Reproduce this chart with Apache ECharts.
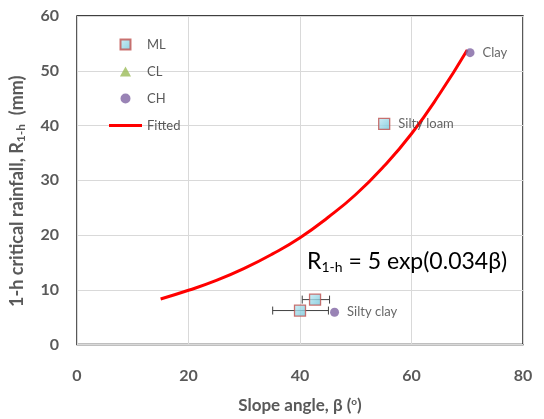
<!DOCTYPE html>
<html>
<head>
<meta charset="utf-8">
<script src="https://cdn.jsdelivr.net/npm/echarts@6/dist/echarts.min.js"></script>
<style>
  html, body { margin: 0; padding: 0; background: #fff; }
  #main { width: 544px; height: 419px; }
</style>
</head>
<body>
<div id="main"></div>
<script>
// data
var mlPoints = [[55.1, 40.3], [42.7, 8.2], [40.0, 6.2]];
var mlLabels = ['Silty loam', '', ''];
var mlErrLow = [null, 40.4, 35.1];
var mlErrHigh = [null, 45.3, 45.1];
var clPoints = [];
var chPoints = [[70.5, 53.3], [46.2, 5.9]];
var chLabels = ['Clay', 'Silty clay'];
var fitBeta = [15, 20, 25, 30, 35, 40, 45, 50, 55, 60, 65, 70];
var fitR = [8.3, 9.9, 11.7, 13.9, 16.5, 19.5, 23.2, 27.4, 32.5, 38.5, 45.7, 53.8];

var grey = '#595959';
var font = 'Lato, "Open Sans", sans-serif';

var errData = [];
mlPoints.forEach(function (p, i) {
    if (mlErrLow[i] != null) errData.push([p[0], p[1], mlErrLow[i], mlErrHigh[i]]);
});
var fitData = fitBeta.map(function (b, i) { return [b, fitR[i]]; });

var myChart = echarts.init(document.getElementById('main'));
var option = {
    animation: false,
    backgroundColor: '#fff',
    textStyle: { fontFamily: font },
    grid: {
        left: 76, right: 21, top: 16, bottom: 69,
        show: true, borderColor: '#000', borderWidth: 1.3
    },
    legend: {
        orient: 'vertical',
        left: 104, top: 33,
        itemWidth: 33, itemHeight: 10,
        itemGap: 14,
        symbolKeepAspect: true,
        textStyle: { color: grey, fontSize: 13, fontFamily: font },
        data: [
            { name: 'ML', icon: 'path://M0,0L10,0L10,10L0,10Z' },
            { name: 'CL', icon: 'path://M5,0L10,9L0,9Z' },
            { name: 'CH', icon: 'path://M5,0A5,5,0,1,1,4.99,0Z' },
            { name: 'Fitted', icon: 'path://M0,0L33,0L33,3L0,3Z' }
        ]
    },
    xAxis: {
        type: 'value', min: 0, max: 80, interval: 20,
        name: '{t|Slope angle, β (}{s|o}{t|)}',
        nameLocation: 'middle', nameGap: 52, nameMoveOverlap: false,
        nameTextStyle: {
            rich: {
                t: { fontSize: 17, fontWeight: 'bold', color: grey, fontFamily: font },
                s: { fontSize: 10, fontWeight: 'bold', color: grey, fontFamily: font, verticalAlign: 'top', padding: [0, 0, 8, 0] }
            }
        },
        axisLine: { show: false },
        axisTick: { show: false },
        axisLabel: { color: grey, fontSize: 16, fontWeight: 'bold', margin: 23 },
        splitLine: { lineStyle: { color: '#d9d9d9', width: 1 } }
    },
    yAxis: {
        type: 'value', min: 0, max: 60, interval: 10,
        name: '{t|1-h critical rainfall, R}{s|1-h}{t|  (mm)}',
        nameLocation: 'middle', nameGap: 50, nameRotate: 90, nameMoveOverlap: false,
        nameTextStyle: {
            padding: [0, 22, 0, 0],
            rich: {
                t: { fontSize: 18, fontWeight: 'bold', color: grey, fontFamily: font },
                s: { fontSize: 12, fontWeight: 'bold', color: grey, fontFamily: font, verticalAlign: 'bottom', padding: [8, 0, 0, 0] }
            }
        },
        axisLine: { show: false },
        axisTick: { show: false },
        axisLabel: { color: grey, fontSize: 16, fontWeight: 'bold', margin: 18 },
        splitLine: { lineStyle: { color: '#d9d9d9', width: 1 } }
    },
    series: [
        {
            name: 'Fitted', type: 'line', data: fitData,
            symbol: 'none', smooth: true, z: 2,
            lineStyle: { color: '#ff0000', width: 3 },
            itemStyle: { color: '#ff0000' }
        },
        {
            name: 'ML-err', type: 'custom', data: errData, z: 3,
            renderItem: function (params, api) {
                var y = api.value(1);
                var a = api.coord([api.value(2), y]);
                var b = api.coord([api.value(3), y]);
                var h = 4;
                var st = { stroke: '#404040', lineWidth: 1 };
                return {
                    type: 'group',
                    children: [
                        { type: 'line', shape: { x1: a[0], y1: a[1], x2: b[0], y2: b[1] }, style: st },
                        { type: 'line', shape: { x1: a[0], y1: a[1] - h, x2: a[0], y2: a[1] + h }, style: st },
                        { type: 'line', shape: { x1: b[0], y1: b[1] - h, x2: b[0], y2: b[1] + h }, style: st }
                    ]
                };
            }
        },
        {
            name: 'ML', type: 'scatter', data: mlPoints, z: 5,
            symbol: 'rect', symbolSize: 11,
            itemStyle: {
                color: new echarts.graphic.LinearGradient(0, 0, 1, 1, [
                    { offset: 0, color: '#c6ecf5' }, { offset: 1, color: '#6ec3d8' }
                ]),
                borderColor: '#c0504d', borderWidth: 1.3
            },
            label: {
                show: true, position: 'right', distance: 8,
                color: '#404040', fontSize: 13, fontFamily: font,
                formatter: function (p) { return mlLabels[p.dataIndex]; }
            }
        },
        {
            name: 'CL', type: 'scatter', data: clPoints,
            symbol: 'triangle', symbolSize: 10,
            itemStyle: { color: '#9bbb59' }
        },
        {
            name: 'CH', type: 'scatter', data: chPoints, z: 5,
            symbol: 'circle', symbolSize: 9,
            itemStyle: { color: '#8064a2' },
            label: {
                show: true, position: 'right', distance: 8,
                color: '#404040', fontSize: 13, fontFamily: font,
                formatter: function (p) { return chLabels[p.dataIndex]; }
            }
        }
    ],
    graphic: [{
        type: 'text', left: 307, top: 250, z: 10,
        style: {
            text: '{t|R}{s|1-h}{t| = 5 exp(0.034β)}',
            rich: {
                t: { fontSize: 23, fill: '#000', fontFamily: font },
                s: { fontSize: 14, fill: '#000', fontFamily: font, verticalAlign: 'bottom', padding: [12, 0, 0, 0] }
            }
        }
    }]
};
myChart.setOption(option);
</script>
</body>
</html>
